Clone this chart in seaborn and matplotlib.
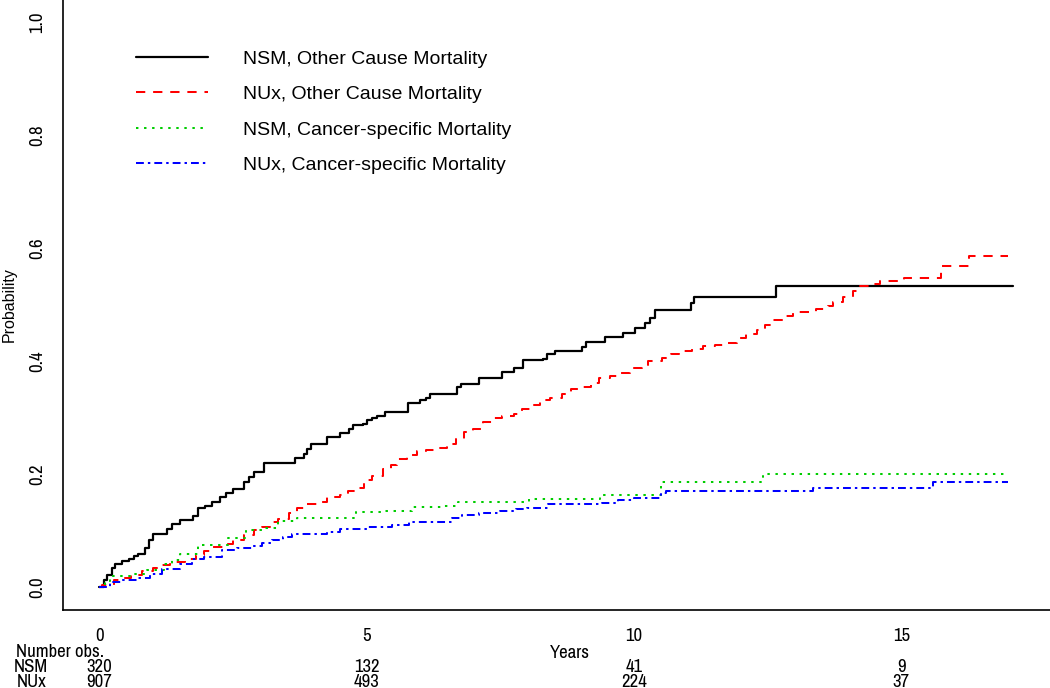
import numpy as np
import pandas as pd
import matplotlib
matplotlib.use("Agg")
import matplotlib.pyplot as plt
import seaborn as sns
from matplotlib import font_manager
from matplotlib.font_manager import FontProperties
from matplotlib.transforms import blended_transform_factory

# ---------------- data ----------------
nsm_ocm_t = [0, 0.08, 0.14, 0.24, 0.3, 0.42, 0.55, 0.65, 0.73, 0.86, 0.93, 1.0, 1.27, 1.36, 1.5,
             1.76, 1.85, 1.98, 2.1, 2.25, 2.36, 2.5, 2.7, 2.8, 2.9, 3.07, 3.66, 3.82, 3.88, 3.95,
             4.26, 4.5, 4.66, 4.75, 4.93, 5.0, 5.1, 5.2, 5.35, 5.77, 6.0, 6.11, 6.19, 6.69, 6.76,
             7.1, 7.54, 7.76, 7.93, 8.3, 8.37, 8.52, 9.03, 9.1, 9.45, 9.79, 10.02, 10.2, 10.29,
             10.39, 11.07, 11.12, 12.65, 17.08]
nsm_ocm_p = [0, 0.013, 0.022, 0.035, 0.041, 0.047, 0.051, 0.055, 0.06, 0.069, 0.084, 0.095, 0.104,
             0.113, 0.119, 0.127, 0.14, 0.144, 0.151, 0.16, 0.168, 0.175, 0.187, 0.195, 0.204,
             0.221, 0.229, 0.237, 0.245, 0.254, 0.266, 0.274, 0.281, 0.287, 0.29, 0.296, 0.3,
             0.304, 0.311, 0.327, 0.331, 0.336, 0.342, 0.355, 0.36, 0.37, 0.382, 0.388, 0.402,
             0.405, 0.413, 0.419, 0.425, 0.435, 0.443, 0.45, 0.459, 0.468, 0.477, 0.491, 0.503,
             0.515, 0.533, 0.533]

nux_ocm_t = [0, 0.05, 0.27, 0.45, 0.6, 0.8, 1.0, 1.17, 1.33, 1.6, 1.8, 1.95, 2.12, 2.35, 2.5, 2.7,
             2.9, 3.05, 3.2, 3.35, 3.55, 3.7, 3.87, 4.1, 4.25, 4.5, 4.65, 4.85, 4.95, 5.0, 5.1,
             5.3, 5.45, 5.57, 5.75, 5.94, 6.1, 6.32, 6.5, 6.67, 6.82, 6.99, 7.18, 7.34, 7.53,
             7.75, 7.9, 8.05, 8.25, 8.43, 8.65, 8.83, 9.0, 9.2, 9.35, 9.55, 9.74, 9.93, 10.14,
             10.26, 10.52, 10.7, 10.85, 11.08, 11.29, 11.51, 11.76, 11.92, 12.1, 12.3, 12.45,
             12.6, 12.8, 12.98, 13.4, 13.63, 13.72, 13.9, 14.1, 14.22, 14.45, 14.6, 15.05,
             15.75, 16.27, 17.0]
nux_ocm_p = [0, 0.005, 0.013, 0.016, 0.022, 0.029, 0.035, 0.039, 0.045, 0.051, 0.057, 0.064,
             0.072, 0.077, 0.084, 0.092, 0.101, 0.107, 0.116, 0.121, 0.131, 0.14, 0.148, 0.151,
             0.16, 0.164, 0.17, 0.176, 0.185, 0.19, 0.198, 0.209, 0.217, 0.228, 0.234, 0.241,
             0.243, 0.247, 0.254, 0.262, 0.275, 0.28, 0.292, 0.3, 0.303, 0.307, 0.316, 0.323,
             0.331, 0.336, 0.342, 0.352, 0.355, 0.362, 0.37, 0.374, 0.38, 0.388, 0.394, 0.4,
             0.406, 0.413, 0.419, 0.422, 0.428, 0.43, 0.433, 0.441, 0.448, 0.455, 0.465, 0.473,
             0.481, 0.487, 0.493, 0.498, 0.506, 0.515, 0.525, 0.534, 0.538, 0.542, 0.548, 0.569,
             0.586, 0.586]

nsm_csm_t = [0, 0.1, 0.2, 0.6, 0.9, 1.2, 1.35, 1.5, 1.85, 2.4, 2.75, 3.1, 3.35, 3.7, 4.8, 5.3,
             5.85, 6.45, 6.7, 8.04, 9.37, 10.5, 12.42, 17.0]
nsm_csm_p = [0, 0.012, 0.021, 0.024, 0.031, 0.041, 0.048, 0.06, 0.075, 0.088, 0.101, 0.105,
             0.117, 0.123, 0.133, 0.136, 0.142, 0.145, 0.151, 0.157, 0.163, 0.186, 0.2, 0.2]

nux_csm_t = [0, 0.2, 0.4, 0.7, 0.95, 1.17, 1.5, 1.73, 1.95, 2.3, 2.57, 2.85, 3.04, 3.23, 3.44,
             3.6, 4.25, 4.5, 5.03, 5.47, 5.8, 6.6, 6.78, 7.1, 7.5, 7.8, 8.0, 8.4, 9.4, 9.7, 10.0,
             10.5, 10.6, 13.35, 15.6, 17.0]
nux_csm_p = [0, 0.009, 0.013, 0.016, 0.024, 0.033, 0.042, 0.05, 0.054, 0.066, 0.069, 0.074,
             0.078, 0.084, 0.09, 0.095, 0.098, 0.104, 0.107, 0.11, 0.116, 0.123, 0.129, 0.132,
             0.136, 0.138, 0.141, 0.148, 0.15, 0.155, 0.158, 0.168, 0.17, 0.176, 0.186, 0.186]

series_labels = ["NSM, Other Cause Mortality", "NUx, Other Cause Mortality",
                 "NSM, Cancer-specific Mortality", "NUx, Cancer-specific Mortality"]

x_ticks = [0, 5, 10, 15]
y_ticks = [0.0, 0.2, 0.4, 0.6, 0.8, 1.0]
risk_rows = ["NSM", "NUx"]
risk_nsm = [320, 132, 41, 9]
risk_nux = [907, 493, 224, 37]

# ---------------- style ----------------
sns.set_style("white")
plt.rcParams["font.family"] = ["DejaVu Sans"]
plt.rcParams["text.color"] = "black"
plt.rcParams["axes.labelcolor"] = "black"

# look for a narrow / condensed sans face for the tick and table text
narrow_file = None
entries = font_manager.fontManager.ttflist
for key in ["Narrow", "Condensed"]:
    for f in entries:
        if key.lower() in (f.name + " " + f.fname).lower() and "bold" not in f.fname.lower() \
                and "italic" not in f.fname.lower() and "oblique" not in f.fname.lower() \
                and "serif" not in f.name.lower() and "mono" not in f.name.lower():
            narrow_file = f.fname
            break
    if narrow_file:
        break
if narrow_file is None:
    for f in entries:
        if "condensed" in str(f.stretch) and f.weight in (400, "normal", "regular") \
                and f.style == "normal" and "serif" not in f.name.lower():
            narrow_file = f.fname
            break

if narrow_file:
    def nfp(size):
        return FontProperties(fname=narrow_file, size=size)
    tick_size = 13.5
else:
    def nfp(size):
        return FontProperties(family="DejaVu Sans", size=size)
    tick_size = 11.5

fig = plt.figure(figsize=(10.5, 6.88), dpi=100)
ax = fig.add_axes([63 / 1050, 78 / 688, 987 / 1050, 610 / 688])

frames = []
for lab, t, p in [(series_labels[0], nsm_ocm_t, nsm_ocm_p),
                  (series_labels[1], nux_ocm_t, nux_ocm_p),
                  (series_labels[2], nsm_csm_t, nsm_csm_p),
                  (series_labels[3], nux_csm_t, nux_csm_p)]:
    frames.append(pd.DataFrame({"Years": t, "Probability": p, "Group": lab}))
df = pd.concat(frames, ignore_index=True)

colors = ["#000000", "#FF0000", "#00CD00", "#0000FF"]
styles = ["-", (0, (4.6, 3.9)), (0, (1.2, 2.8)), (0, (3.9, 2.0, 1.2, 2.0))]
lws = [1.6, 1.45, 1.45, 1.45]

for lab, col, ls, lw in zip(series_labels, colors, styles, lws):
    sub = df[df["Group"] == lab]
    sns.lineplot(data=sub, x="Years", y="Probability", ax=ax, color=col, linestyle=ls,
                 linewidth=lw, drawstyle="steps-post", estimator=None, sort=False,
                 label=lab)

ax.set_xlim(-0.68, 17.78)
ax.set_ylim(-0.04, 1.04)
ax.set_xticks(x_ticks)
ax.set_xticklabels([str(v) for v in x_ticks])
ax.set_yticks(y_ticks)
ax.set_yticklabels([f"{v:.1f}" for v in y_ticks])
for s in ["top", "right"]:
    ax.spines[s].set_visible(False)
for s in ["left", "bottom"]:
    ax.spines[s].set_color("black")
    ax.spines[s].set_linewidth(1.2)
ax.tick_params(axis="both", direction="out", length=5, width=1.0, colors="black", pad=8)
for lbl in ax.get_xticklabels():
    lbl.set_fontproperties(nfp(tick_size))
for lbl in ax.get_yticklabels():
    lbl.set_fontproperties(nfp(tick_size))
    lbl.set_rotation(90)
    lbl.set_va("center")
    lbl.set_ha("right")

ax.set_xlabel("")
ax.set_ylabel("Probability", fontsize=11.5, family=["Liberation Sans", "DejaVu Sans"],
              color="black")
ax.yaxis.set_label_coords(-(63 - 17) / 987, 0.5)

leg = ax.legend(loc="upper left", bbox_to_anchor=((136 - 63) / 987, (610 - 50) / 610),
                frameon=False, handlelength=3.7, handletextpad=1.8,
                labelspacing=0.92, borderpad=0, borderaxespad=0,
                prop={"family": ["Liberation Sans", "DejaVu Sans"], "size": 14})
for txt in leg.get_texts():
    txt.set_color("black")

# risk table below axis
tr = blended_transform_factory(ax.transData, fig.transFigure)
fs = tick_size
def fy(px):
    return 1 - px / 688

fig.text(16 / 1050, fy(652), "Number obs.", ha="left", va="center", fontproperties=nfp(fs))
fig.text(570 / 1050, fy(653), "Years", ha="center", va="center", fontproperties=nfp(fs))
fig.text(31 / 1050, fy(667), risk_rows[0], ha="center", va="center", fontproperties=nfp(fs))
fig.text(32 / 1050, fy(682), risk_rows[1], ha="center", va="center", fontproperties=nfp(fs))
for xv, a, b in zip(x_ticks, risk_nsm, risk_nux):
    ax.text(xv, fy(667), str(a), transform=tr, ha="center", va="center", fontproperties=nfp(fs))
    ax.text(xv, fy(682), str(b), transform=tr, ha="center", va="center", fontproperties=nfp(fs))

fig.savefig("out.png", dpi=100, facecolor="white")
